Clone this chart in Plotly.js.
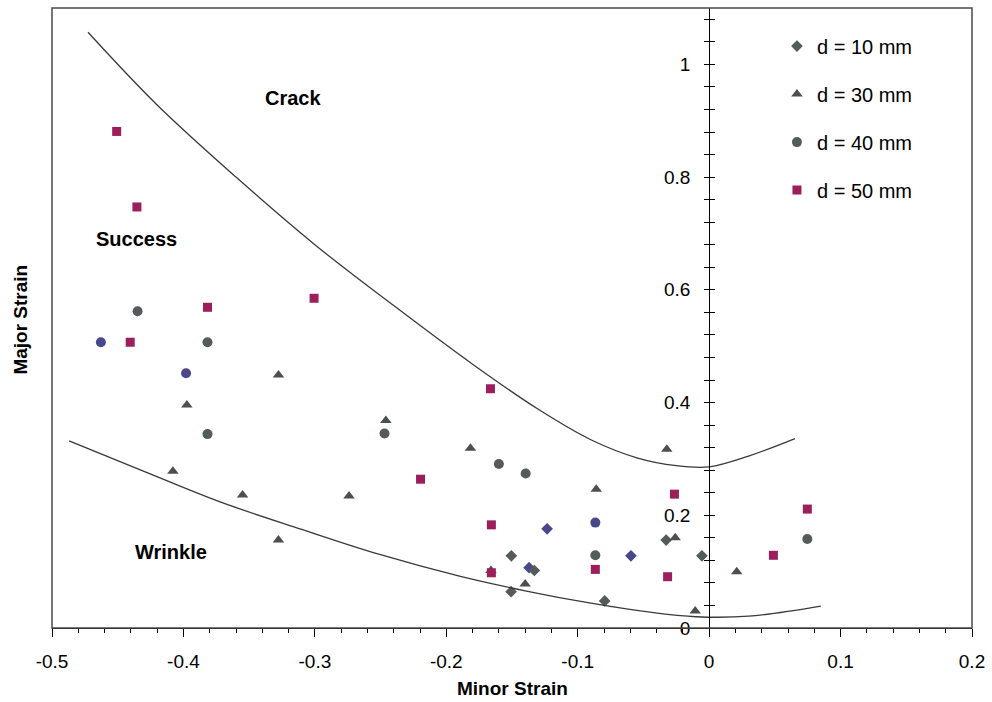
<!DOCTYPE html>
<html><head><meta charset="utf-8">
<script src="https://cdn.plot.ly/plotly-3.0.1.min.js"></script>
<style>html,body{margin:0;padding:0;background:#fff}#chart{width:992px;height:702px}</style>
</head><body><div id="chart"></div>
<script>
// Boundary curves (forming limit lines)
const crackX = [-0.4726,-0.42,-0.36,-0.30,-0.24,-0.18,-0.13,-0.09,-0.055,-0.025,0.0,0.03,0.0653];
const crackY = [1.057,0.928,0.800,0.680,0.572,0.468,0.388,0.334,0.302,0.288,0.286,0.305,0.336];
const wrinkleX = [-0.487,-0.43,-0.37,-0.31,-0.25,-0.19,-0.14,-0.09,-0.045,-0.01,0.03,0.085];
const wrinkleY = [0.332,0.278,0.222,0.175,0.130,0.092,0.066,0.044,0.028,0.020,0.021,0.039];

// Series
const seriesNames = ['d = 10 mm','d = 30 mm','d = 40 mm','d = 50 mm'];
const d10X = [-0.1505,-0.1233,-0.137,-0.133,-0.1507,-0.0795,-0.0327,-0.0595,-0.0055];
const d10Y = [0.128,0.176,0.107,0.102,0.0645,0.048,0.156,0.128,0.128];
const d10Tone = ['g','b','b','g','g','g','g','b','g'];
const d30X = [-0.3974,-0.408,-0.355,-0.3277,-0.3277,-0.274,-0.246,-0.1816,-0.0859,-0.0322,-0.0258,-0.140,-0.0106,0.021,-0.166];
const d30Y = [0.3955,0.278,0.236,0.449,0.156,0.234,0.368,0.319,0.246,0.317,0.160,0.078,0.030,0.100,0.102];
const d40X = [-0.4349,-0.4628,-0.3817,-0.398,-0.3817,-0.247,-0.160,-0.1396,-0.0866,-0.0866,0.0747];
const d40Y = [0.562,0.507,0.507,0.452,0.344,0.345,0.291,0.274,0.187,0.129,0.158];
const d40Tone = ['g','b','g','b','g','g','g','g','b','g','g'];
const d50X = [-0.4508,-0.4354,-0.3817,-0.4405,-0.3006,-0.1664,-0.2196,-0.1657,-0.1657,-0.0264,-0.0866,-0.0316,0.0489,0.0747];
const d50Y = [0.881,0.747,0.569,0.507,0.585,0.4245,0.264,0.183,0.098,0.2375,0.104,0.091,0.129,0.211];

// Region labels
const regionText = ['Crack','Success','Wrinkle'];
const regionX = [-0.317,-0.436,-0.4096];
const regionY = [0.94,0.691,0.135];

// Ticks
const xTickVals = [-0.5,-0.4,-0.3,-0.2,-0.1,0,0.1,0.2];
const xTickText = ['-0.5','-0.4','-0.3','-0.2','-0.1','0','0.1','0.2'];
const yTickVals = [0,0.2,0.4,0.6,0.8,1];
const yTickText = ['0','0.2','0.4','0.6','0.8','1'];

const FONT = 'Liberation Sans, Arial, sans-serif';
const toneColor = t => t === 'b' ? '#48488a' : '#545b5c';

const traces = [
  {x: crackX, y: crackY, mode:'lines', line:{color:'#3a3a3a', width:1.3, shape:'spline', smoothing:1}, showlegend:false, hoverinfo:'skip'},
  {x: wrinkleX, y: wrinkleY, yaxis:'y2', mode:'lines', line:{color:'#3a3a3a', width:1.3, shape:'spline', smoothing:1}, showlegend:false, hoverinfo:'skip'},
  {x: d10X, y: d10Y, name: seriesNames[0], legendgroup:'a', mode:'markers',
   marker:{symbol:'diamond', size:9, color: d10Tone.map(toneColor)}},
  {x: d30X, y: d30Y, name: seriesNames[1], legendgroup:'b', mode:'markers',
   marker:{symbol:'triangle-up', size:10, color:'#4b4f50'}},
  {x: d40X, y: d40Y, name: seriesNames[2], legendgroup:'c', mode:'markers',
   marker:{symbol:'circle', size:10, color: d40Tone.map(toneColor)}},
  {x: d50X, y: d50Y, name: seriesNames[3], legendgroup:'d', mode:'markers',
   marker:{symbol:'square', size:9, color:'#9c1f5b'}}
];

const yCommon = {
  range:[0,1.1], anchor:'free', position: 0.5/0.7, side:'left',
  showgrid:false, zeroline:false, showline:true, linecolor:'#000', linewidth:1,
  tickmode:'array', tickvals: yTickVals, ticktext: yTickText, ticklen:5, tickcolor:'#000',
  minor:{tickmode:'linear', tick0:0, dtick:0.04, ticklen:5, tickcolor:'#000'}
};

const layout = {
  width:992, height:702,
  margin:{l:51.5, r:19.5, t:8, b:74},
  paper_bgcolor:'#fff', plot_bgcolor:'#fff',
  font:{family:FONT, size:19, color:'#000'},
  xaxis:{range:[-0.5,0.2], showgrid:false, zeroline:false, showline:true, linecolor:'#000', linewidth:1,
    tickmode:'array', tickvals:xTickVals, ticktext:xTickText, ticks:'outside', ticklen:8, tickcolor:'#000',
    ticklabelstandoff:8, tickfont:{size:19},
    minor:{tickmode:'linear', tick0:0, dtick:0.02, ticks:'outside', ticklen:4, tickcolor:'#000'}},
  yaxis: Object.assign({}, yCommon, {ticks:'outside', minor:Object.assign({}, yCommon.minor, {ticks:'outside'}),
    ticklabelstandoff:10, tickfont:{size:19}}),
  yaxis2: Object.assign({}, yCommon, {overlaying:'y', ticks:'inside', showticklabels:false,
    minor:Object.assign({}, yCommon.minor, {ticks:'inside'})}),
  legend:{x:0.788, y:0.970, xanchor:'left', yanchor:'top', bgcolor:'rgba(0,0,0,0)',
    font:{family:FONT, size:20, color:'#000'}, tracegroupgap:19, itemwidth:30},
  shapes:[{type:'rect', xref:'paper', yref:'paper', x0:0, x1:1, y0:0, y1:1, line:{color:'#4a4a4a', width:1.5}}],
  annotations: regionText.map((t,i)=>({x:regionX[i], y:regionY[i], xref:'x', yref:'y', text:'<b>'+t+'</b>',
      showarrow:false, font:{family:FONT, size:20, color:'#000'}})).concat([
    {xref:'paper', yref:'paper', x:0.5, y:-0.098, yanchor:'middle', text:'<b>Minor Strain</b>', showarrow:false,
     font:{family:FONT, size:19, color:'#000'}},
    {xref:'paper', yref:'paper', x:-0.034, y:0.497, xanchor:'center', yanchor:'middle', textangle:-90,
     text:'<b>Major Strain</b>', showarrow:false, font:{family:FONT, size:19, color:'#000'}}
  ])
};

Plotly.newPlot('chart', traces, layout, {displayModeBar:false, staticPlot:true});
</script></body></html>
